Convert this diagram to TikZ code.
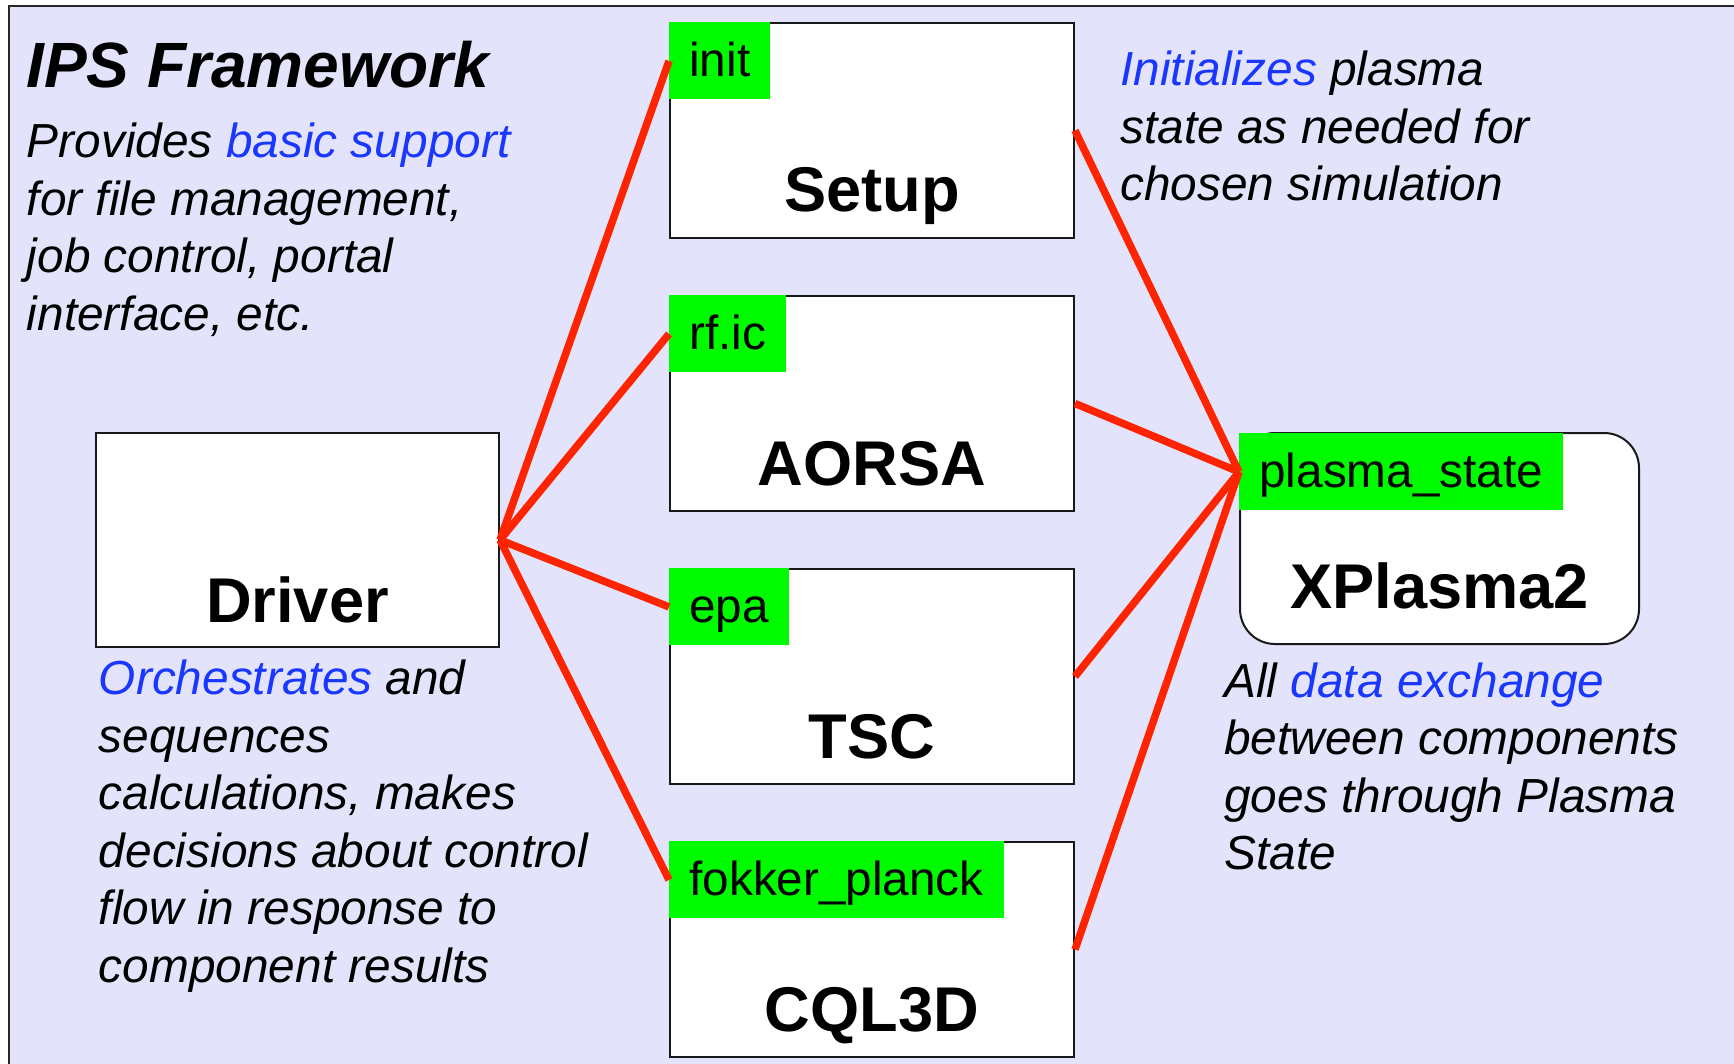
\documentclass[tikz,border=0pt]{standalone}
\usepackage{fontspec}
\setmainfont{Liberation Sans}
\definecolor{bgfill}{RGB}{227,228,252}
\definecolor{taggreen}{RGB}{0,250,0}
\definecolor{linkred}{RGB}{255,36,0}
\definecolor{hl}{RGB}{25,55,255}
\newcommand{\bodytext}[1]{\parbox[t]{300pt}{\raggedright\fontsize{23.9}{28.75}\selectfont\itshape #1}}
\begin{document}
\begin{tikzpicture}[x=0.5pt,y=-0.5pt,
  comp/.style={draw=black!90, line width=1pt, fill=white, minimum width=202pt, minimum height=107.5pt, inner sep=0pt, anchor=north west},
  tag/.style={fill=taggreen, anchor=north west, inner xsep=10pt, inner ysep=0pt, text height=27pt, text depth=11.5pt, font=\fontsize{23.85}{28}\selectfont},
  mainlbl/.style={anchor=base, inner sep=0pt, font=\fontsize{31.6}{36}\selectfont\bfseries},
  txt/.style={anchor=base west, inner sep=0pt},
  link/.style={draw=linkred, line width=3.75pt}]
\useasboundingbox (0,0) rectangle (1734,1064);
\clip (0,0) rectangle (1734,1064);
\draw[fill=bgfill, draw=black!85, line width=1pt] (9,6) rectangle (1780,1100);

% title and descriptions
\node[txt, font=\fontsize{32}{38}\selectfont\bfseries\itshape] (title) at (26,88) {IPS Framework};
\node[txt] (fwdesc) at (26.5,158) {\bodytext{Provides \textcolor{hl}{basic support}\\for file management,\\job control, portal\\interface, etc.}};
\node[txt] (initdesc) at (1120,86) {\bodytext{\textcolor{hl}{Initializes} plasma\\state as needed for\\chosen simulation}};
\node[txt] (drvdesc) at (98.5,694.5) {\bodytext{\textcolor{hl}{Orchestrates} and\\sequences\\calculations, makes\\decisions about control\\flow in response to\\component results}};
\node[txt] (psdesc) at (1224,697) {\bodytext{All \textcolor{hl}{data exchange}\\between components\\goes through Plasma\\State}};

% boxes
\node[comp, minimum width=201.5pt, minimum height=107pt] (driver) at (95,432) {};
\node[comp] (setup) at (669,22) {};
\node[comp] (aorsa) at (669,295) {};
\node[comp] (tsc) at (669,568) {};
\node[comp] (cql) at (669,841) {};
\node[comp, rounded corners=17.5pt, minimum width=199.5pt, minimum height=105.5pt] (xpl) at (1239,432) {};

% main labels
\node[mainlbl, yshift=13pt] (driverT) at (driver.south) {Driver};
\node[mainlbl, yshift=13.5pt] (setupT) at (setup.south) {Setup};
\node[mainlbl, yshift=13.5pt] (aorsaT) at (aorsa.south) {AORSA};
\node[mainlbl, yshift=13.5pt] (tscT) at (tsc.south) {TSC};
\node[mainlbl, yshift=13.5pt] (cqlT) at (cql.south) {CQL3D};
\node[mainlbl, yshift=18.5pt] (xplT) at (xpl.south) {XPlasma2};

% green tags
\node[tag] (init) at (setup.north west) {init};
\node[tag] (rfic) at (aorsa.north west) {rf.ic};
\node[tag] (epa) at (tsc.north west) {epa};
\node[tag] (fp) at (cql.north west) {fokker\_planck};
\node[tag] (ps) at (1239,433) {plasma\_state};

% connectors
\draw[link] (driver.east) -- (init.west);
\draw[link] (driver.east) -- (rfic.west);
\draw[link] (driver.east) -- (epa.west);
\draw[link] (driver.east) -- (fp.west);
\draw[link] (setup.east) -- (ps.west);
\draw[link] (aorsa.east) -- (ps.west);
\draw[link] (tsc.east) -- (ps.west);
\draw[link] (cql.east) -- (ps.west);
\end{tikzpicture}
\end{document}
